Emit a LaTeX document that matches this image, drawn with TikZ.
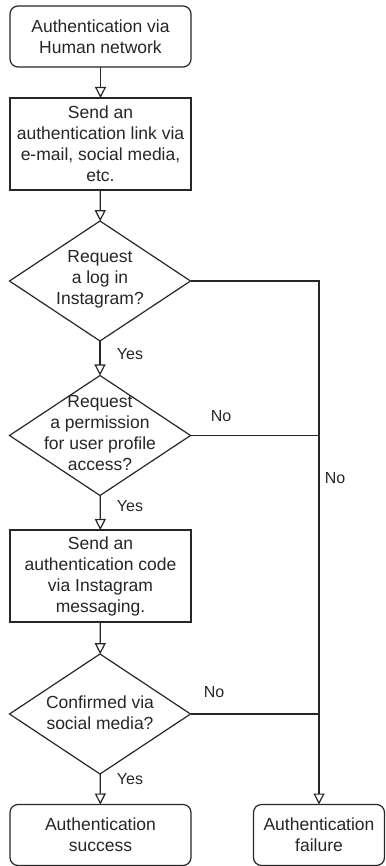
\documentclass[tikz,border=0pt]{standalone}
\usepackage{fontspec}
\setmainfont{Liberation Sans}
\usetikzlibrary{arrows.meta,shapes.geometric}
\begin{document}
\begin{tikzpicture}[x=1pt,y=-1pt,
  every node/.style={inner sep=0pt, outer sep=0pt},
  base/.style={draw=black!85, line width=1.2pt, fill=white, align=center,
    font=\fontsize{17.5}{21}\selectfont, text=black!85},
  stepbox/.style={base, rectangle, minimum width=181pt, minimum height=92pt},
  term/.style={base, rectangle, rounded corners=8pt, minimum height=61pt},
  dia/.style={draw=black!85, line width=1.2pt, diamond, minimum width=181pt, minimum height=120pt},
  txt/.style={align=center, font=\fontsize{17.5}{21}\selectfont, text=black!85},
  lbl/.style={font=\fontsize{16}{19}\selectfont, text=black!85},
  conn/.style={draw=black!85, line width=1.2pt},
  arr/.style={conn, -{Triangle[open, length=11pt, width=11pt]}}
]
\useasboundingbox (0,0) rectangle (385,866);

\node[term, minimum width=181pt] (start) at (100.5,36.5) {Authentication via\\Human network};
\node[stepbox] (send1) at (100.5,144) {Send an\\authentication link via\\e-mail, social media,\\etc.};
\node[dia] (d1) at (100,281) {};
\node[txt] (d1t) at (100,279) {Request\\a log in\\Instagram?};
\node[dia] (d2) at (100,435.5) {};
\node[txt] (d2t) at (100,433.5) {Request\\a permission\\for user profile\\access?};
\node[stepbox] (send2) at (100.5,576) {Send an\\authentication code\\via Instagram\\messaging.};
\node[dia] (d3) at (100,714) {};
\node[txt] (d3t) at (100,712.5) {Confirmed via\\social media?};
\node[term, minimum width=181pt] (succ) at (100.5,835) {Authentication\\success};
\node[term, minimum width=131pt] (fail) at (319,835) {Authentication\\failure};

\draw[arr] (start) -- (send1);
\draw[arr] (send1) -- (d1);
\draw[arr] (d1) -- (d2);
\draw[arr] (d2) -- (send2);
\draw[arr] (send2) -- (d3);
\draw[arr] (d3) -- (succ);
\draw[arr] (d1.east) -| (fail.north);
\draw[conn] (d2.east) -- (d2.east -| fail.north);
\draw[conn] (d3.east) -- (d3.east -| fail.north);

\node[lbl] (y1) at (130,354) {Yes};
\node[lbl] (y2) at (130,506) {Yes};
\node[lbl] (y3) at (130,779) {Yes};
\node[lbl] (n1) at (221,416) {No};
\node[lbl] (n2) at (335,478) {No};
\node[lbl] (n3) at (214,692) {No};
\end{tikzpicture}
\end{document}
